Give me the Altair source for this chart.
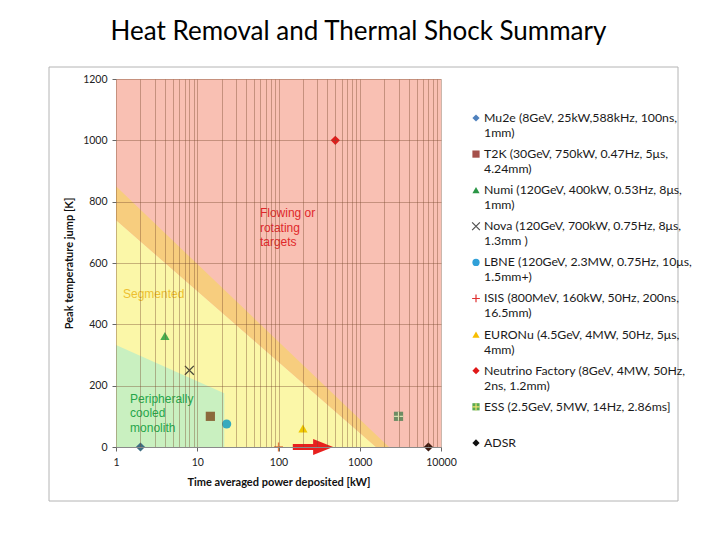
import altair as alt
import pandas as pd

# ---------------- data ----------------
series = ["Mu2e", "T2K", "Numi", "Nova", "LBNE", "ISIS", "EURONu",
          "Neutrino Factory", "ESS", "ADSR"]
power_kw = [2, 14.5, 4, 8, 23, 100, 200, 500, 3000, 7000]
temp_jump = [0, 100, 362, 250, 75, 0, 60, 1000, 100, 0]

label_line1 = [
    "Mu2e (8GeV, 25kW,588kHz, 100ns,",
    "T2K (30GeV, 750kW, 0.47Hz, 5\u03bcs,",
    "Numi (120GeV, 400kW, 0.53Hz, 8\u03bcs,",
    "Nova (120GeV, 700kW, 0.75Hz, 8\u03bcs,",
    "LBNE (120GeV, 2.3MW, 0.75Hz, 10\u03bcs,",
    "ISIS (800MeV, 160kW, 50Hz, 200ns,",
    "EURONu (4.5GeV, 4MW, 50Hz, 5\u03bcs,",
    "Neutrino Factory (8GeV, 4MW, 50Hz,",
    "ESS (2.5GeV, 5MW, 14Hz, 2.86ms]",
    "ADSR",
]
label_line2 = ["1mm)", "4.24mm)", "1mm)", "1.3mm )", "1.5mm+)", "16.5mm)",
               "4mm)", "2ns, 1.2mm)", "", ""]

# regions (x in kW, y in K)
red_x = [1, 10000]
red_y = [0, 1200]
yellow_x = [1, 1585]
yellow_top = [740, 0]
orange_x = [1, 1585, 2290]
orange_top = [850, 40, 0]
orange_bottom = [740, 0, 0]
green_x = [1, 21.5]
green_top = [333, 175]

# region labels
flow_pos = [59, 779]
seg_pos = [1.22, 515]
peri_pos = [1.49, 173]

# arrow
arrow_shaft = [150, 330]
arrow_tip = [470]

x_grid_values = [1, 2, 3, 4, 5, 6, 7, 8, 9,
                 10, 20, 30, 40, 50, 60, 70, 80, 90,
                 100, 200, 300, 400, 500, 600, 700, 800, 900,
                 1000, 2000, 3000, 4000, 5000, 6000, 7000, 8000, 9000,
                 10000]
x_major = [1, 10, 100, 1000, 10000]
y_ticks = [0, 200, 400, 600, 800, 1000, 1200]

# ---------------- styles ----------------
X_PATH = "M-1,-1L1,1M-1,1L1,-1"
PLUS_PATH = "M-1,0L1,0M0,-1L0,1"
shapes = ["diamond", "square", "triangle-up", X_PATH, "circle", PLUS_PATH,
          "triangle-up", "diamond", "square", "diamond"]
plot_colors = ["#3E6E82", "#8B6A3C", "#48AE4E", "#4A4A3A", "#35AABE",
               "#E07A40", "#F0C800", "#E41B1B", "#6E8C64", "#3C1A10"]
legend_colors = ["#4F81BD", "#A5504B", "#2A9646", "#505050", "#30A0D8",
                 "#E03030", "#F7BE00", "#E01818", "#5AAA50", "#101010"]

FONT = "Lato"

major_test = " || ".join(f"datum.value == {v}" for v in x_major)

xs = alt.Scale(type="log", domain=[1, 10000], nice=False)
ys = alt.Scale(domain=[0, 1200], nice=False, zero=False)

x_axis = alt.Axis(
    values=x_grid_values, format="d",
    labelExpr=f"({major_test}) ? datum.label : ''",
    title="Time averaged  power deposited [kW]",
    grid=True, gridColor="#7A4A30", gridOpacity=0.4, gridWidth=1,
    tickSize=4, tickColor="#666666",
    tickOpacity={"condition": {"test": major_test, "value": 1}, "value": 0},
    domainColor="#8A8A8A", labelFont=FONT, labelFontSize=10.5, labelColor="#222222",
    labelPadding=6, labelOverlap=False, labelFlush=False,
    titleFont=FONT, titleFontSize=11, titleFontWeight="bold", titleColor="#111111",
    titlePadding=9, zindex=1,
)
y_axis = alt.Axis(
    values=y_ticks, format="d", title="Peak temperature jump [K]",
    grid=True, gridColor="#7A4A30", gridOpacity=0.4,
    tickSize=4, tickColor="#666666", domain=False,
    labelFont=FONT, labelFontSize=10.5, labelColor="#222222", labelPadding=5,
    titleFont=FONT, titleFontSize=11, titleFontWeight="bold", titleColor="#111111",
    titlePadding=8, zindex=1,
)

def X(field):
    return alt.X(field, type="quantitative", scale=xs, axis=x_axis)

def Y(field):
    return alt.Y(field, type="quantitative", scale=ys, axis=y_axis)

red_df = pd.DataFrame({"x0": [red_x[0]], "x1": [red_x[1]], "y0": [red_y[0]], "y1": [red_y[1]]})
red = alt.Chart(red_df).mark_rect(color="#F9C0B3").encode(
    x=X("x0"), x2="x1", y=Y("y0"), y2="y1")

yellow_df = pd.DataFrame({"x": yellow_x, "top": yellow_top, "bot": [0] * len(yellow_x)})
yellow = alt.Chart(yellow_df).mark_area(color="#FBF7A8", opacity=1).encode(
    x=X("x"), y=Y("top"), y2="bot")

orange_df = pd.DataFrame({"x": orange_x, "top": orange_top, "bot": orange_bottom})
orange = alt.Chart(orange_df).mark_area(color="#F7CD7E", opacity=1).encode(
    x=X("x"), y=Y("top"), y2="bot")

green_df = pd.DataFrame({"x": green_x, "top": green_top, "bot": [0] * len(green_x)})
green = alt.Chart(green_df).mark_area(color="#C9F0C0", opacity=1).encode(
    x=X("x"), y=Y("top"), y2="bot")

def region_label(pos, text, color):
    df = pd.DataFrame({"x": [pos[0]], "y": [pos[1]], "t": [text]})
    return alt.Chart(df).mark_text(
        align="left", baseline="top", font="Liberation Sans", fontSize=12,
        lineBreak="\n", lineHeight=14.5, color=color,
    ).encode(x=X("x"), y=Y("y"), text="t:N")

flow_lbl = region_label(flow_pos, "Flowing or\nrotating\ntargets", "#E0282A")
seg_lbl = region_label(seg_pos, "Segmented", "#EDBF30")
peri_lbl = region_label(peri_pos, "Peripherally\ncooled\nmonolith", "#26A64A")

pts = pd.DataFrame({"name": series, "power": power_kw, "temp": temp_jump})
stroked_names = ["Nova", "ISIS"]
plot_color = alt.Color("name:N", scale=alt.Scale(domain=series, range=plot_colors), legend=None)
shape_enc = alt.Shape("name:N", scale=alt.Scale(domain=series, range=shapes), legend=None)

pts_filled = alt.Chart(pts).transform_filter(
    ~alt.FieldOneOfPredicate(field="name", oneOf=stroked_names)
).mark_point(filled=True, size=85, opacity=1).encode(
    x=X("power"), y=Y("temp"), color=plot_color, shape=shape_enc)
pts_stroked = alt.Chart(pts).transform_filter(
    alt.FieldOneOfPredicate(field="name", oneOf=stroked_names)
).mark_point(filled=False, size=80, opacity=1, strokeWidth=1.3).encode(
    x=X("power"), y=Y("temp"), color=plot_color, shape=shape_enc)
ess_cross = alt.Chart(pts).transform_filter(
    alt.FieldEqualPredicate(field="name", equal="ESS")
).mark_point(filled=False, size=80, shape=PLUS_PATH, stroke="#D8E0B0",
             strokeWidth=1.2, opacity=1).encode(x=X("power"), y=Y("temp"))

shaft_df = pd.DataFrame({"x0": [arrow_shaft[0]], "x1": [arrow_shaft[1]], "y": [0]})
shaft = alt.Chart(shaft_df).mark_rule(color="#E8201E", strokeWidth=6).encode(
    x=X("x0"), x2="x1", y=Y("y"))
head_df = pd.DataFrame({"x": arrow_tip, "y": [0]})
head = alt.Chart(head_df).mark_point(
    filled=True, shape="M-2,-0.8L0,0L-2,0.8Z", size=400, color="#E8201E", opacity=1
).encode(x=X("x"), y=Y("y"))

plot = alt.layer(red, yellow, orange, green, flow_lbl, seg_lbl, peri_lbl,
                 shaft, head, pts_filled, pts_stroked, ess_cross)

# ---------------- legend panel ----------------
leg = pd.DataFrame({"name": series, "row": list(range(len(series))),
                    "l1": label_line1, "l2": label_line2})
ly = alt.Scale(domain=[-1.08, 9.114], reverse=True, nice=False, zero=False)
leg_color = alt.Color("name:N", scale=alt.Scale(domain=series, range=legend_colors), legend=None)
leg_shape = alt.Shape("name:N", scale=alt.Scale(domain=series, range=shapes), legend=None)
LY = alt.Y("row:Q", scale=ly, axis=None)

leg_filled = alt.Chart(leg).transform_filter(
    ~alt.FieldOneOfPredicate(field="name", oneOf=stroked_names)
).mark_point(filled=True, size=52, opacity=1).encode(
    x=alt.value(360), y=LY, color=leg_color, shape=leg_shape)
leg_stroked = alt.Chart(leg).transform_filter(
    alt.FieldOneOfPredicate(field="name", oneOf=stroked_names)
).mark_point(filled=False, size=60, opacity=1, strokeWidth=1.2).encode(
    x=alt.value(360), y=LY, color=leg_color, shape=leg_shape)
leg_ess = alt.Chart(leg).transform_filter(
    alt.FieldEqualPredicate(field="name", equal="ESS")
).mark_point(filled=False, size=52, shape=PLUS_PATH, stroke="#F0E070",
             strokeWidth=1.2, opacity=1).encode(x=alt.value(360), y=LY)
leg_t1 = alt.Chart(leg).mark_text(
    align="left", baseline="middle", font=FONT, fontSize=12.3, color="#1A1A1A"
).encode(x=alt.value(368), y=LY, text="l1:N")
leg_t2 = alt.Chart(leg).mark_text(
    align="left", baseline="middle", font=FONT, fontSize=12.3, color="#1A1A1A", dy=15
).encode(x=alt.value(368), y=LY, text="l2:N")
frame = alt.Chart(pd.DataFrame({"k": [0]})).mark_rect(
    fill="white", fillOpacity=0, stroke="#B4B4B4", strokeWidth=1
).encode(x=alt.value(-67), x2=alt.value(562), y=alt.value(-12), y2=alt.value(422))

legend_panel = alt.layer(frame, leg_filled, leg_stroked, leg_ess, leg_t1, leg_t2)

chart = alt.layer(plot, legend_panel).resolve_scale(
    x="independent", y="independent", color="independent", shape="independent"
).properties(
    width=325, height=368,
    padding={"left": 40, "top": 10, "right": 5, "bottom": 5},
    title=alt.Title("Heat Removal and Thermal Shock Summary", font=FONT, fontSize=26,
                    fontWeight="normal", color="#000000", anchor="middle", dx=80,
                    offset=22),
).configure_view(strokeWidth=0)

chart.save("out.html", embed_options={"renderer": "svg", "actions": False})
